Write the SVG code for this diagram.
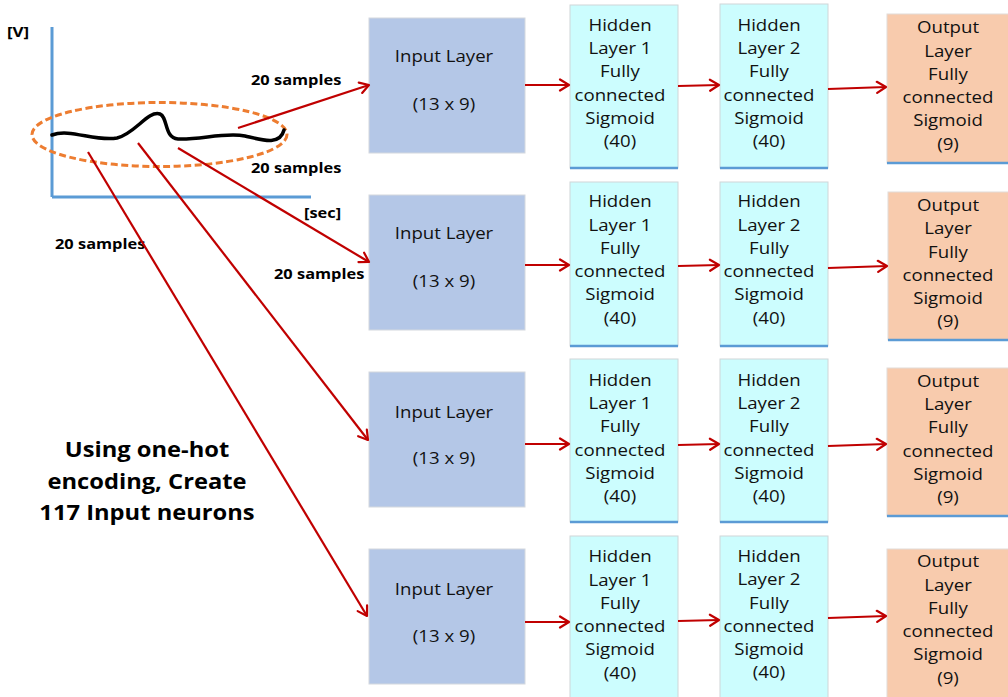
<svg xmlns="http://www.w3.org/2000/svg" width="1008" height="697" viewBox="0 0 1008 697">
<style>
.in{fill:#b4c7e7;stroke:#d4d8de;stroke-width:1}
.hid{fill:#ccfdfe;stroke:#cfd6d8;stroke-width:1}
.out{fill:#f8cbad;stroke:#e2dcd8;stroke-width:1}
.bl{stroke:#5b9bd5;stroke-width:2.5}
.t{font-family:"Open Sans","Liberation Sans",sans-serif;font-size:16.5px;fill:#111;text-anchor:middle}
.lb{font-family:"Open Sans","Liberation Sans",sans-serif;font-weight:bold;font-size:14.5px;fill:#000}
.big{font-family:"Open Sans","Liberation Sans",sans-serif;font-weight:bold;font-size:21px;fill:#000;text-anchor:middle}
.ar{stroke:#c00000;stroke-width:2.2;fill:none;marker-end:url(#ah)}
</style>
<defs>
<marker id="ah" markerUnits="userSpaceOnUse" markerWidth="14" markerHeight="14" refX="11" refY="7" orient="auto">
<path d="M2,1.5 L11,7 L2,12.5" fill="none" stroke="#c00000" stroke-width="2.2" stroke-linecap="round" stroke-linejoin="round"/>
</marker>
</defs>
<rect width="1008" height="697" fill="#ffffff"/>

<g id="plot">
<line x1="52" y1="27" x2="52" y2="197" stroke="#5b9bd5" stroke-width="3"/>
<line x1="52" y1="197" x2="311" y2="197" stroke="#5b9bd5" stroke-width="3"/>
<ellipse cx="159.5" cy="134.5" rx="127.5" ry="32" fill="none" stroke="#ed7d31" stroke-width="3" stroke-dasharray="7 3.5"/>
<path d="M52,135 C70,128 95,142 117,138 C135,134 148,110 160,114 C168,117 164,138 178,139 C200,140 225,132 245,136 C262,140 280,146 284,130" fill="none" stroke="#000" stroke-width="3.5" stroke-linecap="round"/>
<g transform="translate(7,37) scale(1.13,1)"><text class="lb" x="0" y="0" style="font-size:15px">[V]</text></g>
<g transform="translate(304,218) scale(1.13,1)"><text class="lb" x="0" y="0">[sec]</text></g>
<g transform="translate(251,85) scale(1.13,1)"><text class="lb" x="0" y="0">20 samples</text></g>
<g transform="translate(251,173) scale(1.13,1)"><text class="lb" x="0" y="0">20 samples</text></g>
<g transform="translate(55,249) scale(1.13,1)"><text class="lb" x="0" y="0">20 samples</text></g>
<g transform="translate(274,279) scale(1.13,1)"><text class="lb" x="0" y="0">20 samples</text></g>
</g>

<g id="note" transform="translate(147,0) scale(1.13,1)">
<text class="big" x="0" y="457">Using one-hot</text>
<text class="big" x="0" y="489">encoding, Create</text>
<text class="big" x="0" y="520">117 Input neurons</text>
</g>

<!-- Row 1 -->
<g id="input1"><rect class="in" x="369" y="18" width="156" height="135"/>
<g transform="translate(444,0) scale(1.13,1)"><text class="t" x="0" y="62">Input Layer</text><text class="t" x="0" y="110">(13 x 9)</text></g></g>
<g id="hidden1a"><rect class="hid" x="570" y="5" width="108" height="163"/><line class="bl" x1="570" y1="168" x2="678" y2="168"/>
<g transform="translate(620,0) scale(1.13,1)"><text class="t" x="0" y="30.7">Hidden</text><text class="t" x="0" y="54">Layer 1</text><text class="t" x="0" y="77.3">Fully</text><text class="t" x="0" y="100.6">connected</text><text class="t" x="0" y="123.9">Sigmoid</text><text class="t" x="0" y="147.2">(40)</text></g></g>
<g id="hidden2a"><rect class="hid" x="720" y="4" width="108" height="164"/><line class="bl" x1="720" y1="168" x2="828" y2="168"/>
<g transform="translate(769,0) scale(1.13,1)"><text class="t" x="0" y="30.7">Hidden</text><text class="t" x="0" y="54">Layer 2</text><text class="t" x="0" y="77.3">Fully</text><text class="t" x="0" y="100.6">connected</text><text class="t" x="0" y="123.9">Sigmoid</text><text class="t" x="0" y="147.2">(40)</text></g></g>
<g id="output1"><rect class="out" x="887" y="14" width="125" height="149"/><line class="bl" x1="887" y1="163" x2="1010" y2="163"/>
<g transform="translate(948,0) scale(1.13,1)"><text class="t" x="0" y="33.3">Output</text><text class="t" x="0" y="56.6">Layer</text><text class="t" x="0" y="79.9">Fully</text><text class="t" x="0" y="103.2">connected</text><text class="t" x="0" y="126.5">Sigmoid</text><text class="t" x="0" y="149.8">(9)</text></g></g>

<!-- Row 2 -->
<g id="input2"><rect class="in" x="369" y="195" width="156" height="135"/>
<g transform="translate(444,0) scale(1.13,1)"><text class="t" x="0" y="239">Input Layer</text><text class="t" x="0" y="287">(13 x 9)</text></g></g>
<g id="hidden1b"><rect class="hid" x="570" y="182" width="108" height="164"/><line class="bl" x1="570" y1="346" x2="678" y2="346"/>
<g transform="translate(620,0) scale(1.13,1)"><text class="t" x="0" y="207.3">Hidden</text><text class="t" x="0" y="230.6">Layer 1</text><text class="t" x="0" y="253.9">Fully</text><text class="t" x="0" y="277.2">connected</text><text class="t" x="0" y="300.5">Sigmoid</text><text class="t" x="0" y="323.8">(40)</text></g></g>
<g id="hidden2b"><rect class="hid" x="720" y="182" width="108" height="164"/><line class="bl" x1="720" y1="346" x2="828" y2="346"/>
<g transform="translate(769,0) scale(1.13,1)"><text class="t" x="0" y="207.3">Hidden</text><text class="t" x="0" y="230.6">Layer 2</text><text class="t" x="0" y="253.9">Fully</text><text class="t" x="0" y="277.2">connected</text><text class="t" x="0" y="300.5">Sigmoid</text><text class="t" x="0" y="323.8">(40)</text></g></g>
<g id="output2"><rect class="out" x="888" y="192" width="124" height="148"/><line class="bl" x1="888" y1="340" x2="1010" y2="340"/>
<g transform="translate(948,0) scale(1.13,1)"><text class="t" x="0" y="211">Output</text><text class="t" x="0" y="234.3">Layer</text><text class="t" x="0" y="257.6">Fully</text><text class="t" x="0" y="280.9">connected</text><text class="t" x="0" y="304.2">Sigmoid</text><text class="t" x="0" y="327.5">(9)</text></g></g>

<!-- Row 3 -->
<g id="input3"><rect class="in" x="369" y="372" width="156" height="135"/>
<g transform="translate(444,0) scale(1.13,1)"><text class="t" x="0" y="418">Input Layer</text><text class="t" x="0" y="464">(13 x 9)</text></g></g>
<g id="hidden1c"><rect class="hid" x="570" y="359" width="108" height="163"/><line class="bl" x1="570" y1="522" x2="678" y2="522"/>
<g transform="translate(620,0) scale(1.13,1)"><text class="t" x="0" y="385.7">Hidden</text><text class="t" x="0" y="409">Layer 1</text><text class="t" x="0" y="432.3">Fully</text><text class="t" x="0" y="455.6">connected</text><text class="t" x="0" y="478.9">Sigmoid</text><text class="t" x="0" y="502.2">(40)</text></g></g>
<g id="hidden2c"><rect class="hid" x="720" y="359" width="108" height="163"/><line class="bl" x1="720" y1="522" x2="828" y2="522"/>
<g transform="translate(769,0) scale(1.13,1)"><text class="t" x="0" y="385.7">Hidden</text><text class="t" x="0" y="409">Layer 2</text><text class="t" x="0" y="432.3">Fully</text><text class="t" x="0" y="455.6">connected</text><text class="t" x="0" y="478.9">Sigmoid</text><text class="t" x="0" y="502.2">(40)</text></g></g>
<g id="output3"><rect class="out" x="887" y="368" width="125" height="148"/><line class="bl" x1="887" y1="516" x2="1010" y2="516"/>
<g transform="translate(948,0) scale(1.13,1)"><text class="t" x="0" y="386.7">Output</text><text class="t" x="0" y="410">Layer</text><text class="t" x="0" y="433.3">Fully</text><text class="t" x="0" y="456.6">connected</text><text class="t" x="0" y="479.9">Sigmoid</text><text class="t" x="0" y="503.2">(9)</text></g></g>

<!-- Row 4 -->
<g id="input4"><rect class="in" x="369" y="549" width="156" height="135"/>
<g transform="translate(444,0) scale(1.13,1)"><text class="t" x="0" y="595">Input Layer</text><text class="t" x="0" y="642">(13 x 9)</text></g></g>
<g id="hidden1d"><rect class="hid" x="570" y="536" width="108" height="170"/>
<g transform="translate(620,0) scale(1.13,1)"><text class="t" x="0" y="562.3">Hidden</text><text class="t" x="0" y="585.6">Layer 1</text><text class="t" x="0" y="608.9">Fully</text><text class="t" x="0" y="632.2">connected</text><text class="t" x="0" y="655.5">Sigmoid</text><text class="t" x="0" y="678.8">(40)</text></g></g>
<g id="hidden2d"><rect class="hid" x="720" y="536" width="108" height="170"/>
<g transform="translate(769,0) scale(1.13,1)"><text class="t" x="0" y="562">Hidden</text><text class="t" x="0" y="585.3">Layer 2</text><text class="t" x="0" y="608.6">Fully</text><text class="t" x="0" y="631.9">connected</text><text class="t" x="0" y="655.2">Sigmoid</text><text class="t" x="0" y="678.5">(40)</text></g></g>
<g id="output4"><rect class="out" x="887" y="549" width="125" height="157"/>
<g transform="translate(948,0) scale(1.13,1)"><text class="t" x="0" y="567.3">Output</text><text class="t" x="0" y="590.6">Layer</text><text class="t" x="0" y="613.9">Fully</text><text class="t" x="0" y="637.2">connected</text><text class="t" x="0" y="660.5">Sigmoid</text><text class="t" x="0" y="683.8">(9)</text></g></g>

<g id="connectors">
<line class="ar" x1="238" y1="128" x2="369" y2="85"/>
<line class="ar" x1="178" y1="148" x2="369" y2="262"/>
<line class="ar" x1="138" y1="143" x2="368" y2="440"/>
<line class="ar" x1="88" y1="152" x2="367" y2="616"/>

<line class="ar" x1="525" y1="85" x2="569" y2="85"/>
<line class="ar" x1="678" y1="86" x2="719" y2="85"/>
<line class="ar" x1="828" y1="89" x2="886" y2="87"/>

<line class="ar" x1="525" y1="265" x2="569" y2="265"/>
<line class="ar" x1="678" y1="266" x2="719" y2="265"/>
<line class="ar" x1="828" y1="268" x2="887" y2="266"/>

<line class="ar" x1="525" y1="444" x2="569" y2="444"/>
<line class="ar" x1="678" y1="445" x2="719" y2="444"/>
<line class="ar" x1="828" y1="446" x2="886" y2="444"/>

<line class="ar" x1="525" y1="622" x2="569" y2="622"/>
<line class="ar" x1="678" y1="621" x2="719" y2="620"/>
<line class="ar" x1="828" y1="618" x2="886" y2="616"/>
</g>
</svg>
